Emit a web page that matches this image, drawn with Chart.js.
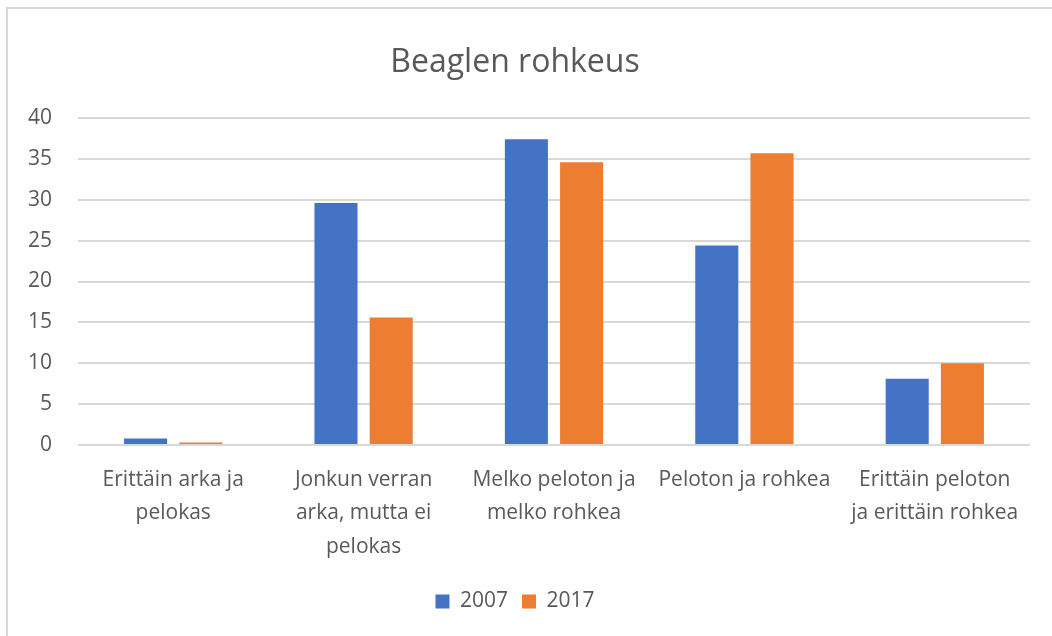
<!DOCTYPE html>
<html>
<head>
<meta charset="utf-8">
<script src="https://cdn.jsdelivr.net/npm/chart.js@4.4.1/dist/chart.umd.min.js"></script>
<style>
  html, body { margin: 0; padding: 0; background: #ffffff; }
  #frame { position: absolute; left: 6px; top: 7px; width: 1060px; height: 640px; border: 2px solid #d9d9d9; box-sizing: border-box; }
  #wrap { position: absolute; left: 0; top: 0; width: 1052px; height: 636px; }
</style>
</head>
<body>
<div id="frame"></div>
<div id="wrap"><canvas id="c" width="1052" height="636"></canvas></div>
<script>
const chartTitle = "Beaglen rohkeus";
const categories = [
  ["Erittäin arka ja", "pelokas"],
  ["Jonkun verran", "arka, mutta ei", "pelokas"],
  ["Melko peloton ja", "melko rohkea"],
  ["Peloton ja rohkea"],
  ["Erittäin peloton", "ja erittäin rohkea"]
];
const seriesNames = ["2007", "2017"];
const values2007 = [0.8, 29.6, 37.4, 24.4, 8.1];
const values2017 = [0.3, 15.6, 34.6, 35.7, 10.0];
const yTicks = [0, 5, 10, 15, 20, 25, 30, 35, 40];

const textColor = "#595959";
const fontFamily = "'Open Sans', sans-serif";

new Chart(document.getElementById("c"), {
  type: "bar",
  data: {
    labels: categories,
    datasets: [
      { label: seriesNames[0], data: values2007, backgroundColor: "#4472C4" },
      { label: seriesNames[1], data: values2017, backgroundColor: "#ED7D31" }
    ]
  },
  options: {
    responsive: false,
    animation: false,
    layout: { padding: { left: 0, right: 22, top: 0, bottom: 14 } },
    datasets: { bar: { categoryPercentage: 0.58, barPercentage: 0.78 } },
    plugins: {
      title: {
        display: true,
        text: chartTitle,
        color: textColor,
        font: { family: fontFamily, size: 32, weight: "normal", lineHeight: 1.2 },
        padding: { top: 44, bottom: 35.6 }
      },
      legend: {
        position: "bottom",
        labels: {
          color: textColor,
          font: { family: fontFamily, size: 21 },
          boxWidth: 14,
          boxHeight: 14,
          padding: 14
        }
      },
      tooltip: { enabled: false }
    },
    scales: {
      x: {
        grid: { display: false },
        border: { display: false },
        ticks: {
          color: textColor,
          font: { family: fontFamily, size: 21, lineHeight: 1.6 },
          maxRotation: 0,
          minRotation: 0,
          autoSkip: false,
          padding: 10
        },
        afterFit: (s) => { s.height = 132; }
      },
      y: {
        min: 0,
        max: 40,
        afterBuildTicks: (s) => { s.ticks = yTicks.map(v => ({ value: v })); },
        grid: { color: "#d9d9d9", lineWidth: 2, drawTicks: false },
        border: { display: false },
        ticks: {
          color: textColor,
          font: { family: fontFamily, size: 21 },
          padding: 26
        },
        afterFit: (s) => { s.width = 78; }
      }
    }
  }
});
</script>
</body>
</html>
